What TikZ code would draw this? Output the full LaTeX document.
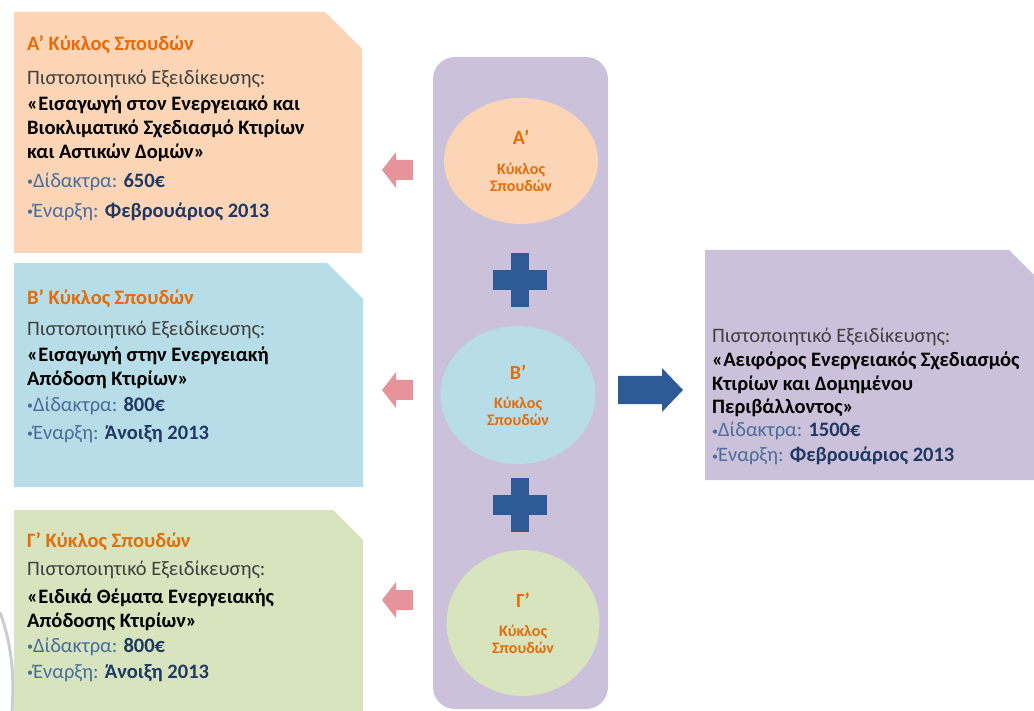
\documentclass[tikz,border=0pt]{standalone}
\usepackage{fontspec}
\setmainfont{Carlito}
\usetikzlibrary{shapes.geometric}

\definecolor{peach}{HTML}{FBD5B5}
\definecolor{skyblue}{HTML}{B7DEE8}
\definecolor{sage}{HTML}{D7E4BD}
\definecolor{lavender}{HTML}{CCC1DA}
\definecolor{cycleorange}{HTML}{E46C0A}
\definecolor{bodygray}{HTML}{404040}
\definecolor{feeblue}{HTML}{4A6E9C}
\definecolor{navy}{HTML}{1F3864}
\definecolor{pinkarrow}{HTML}{E6939B}
\definecolor{darkblue}{HTML}{2E5B97}

\newcommand\smallbullet{{\fontsize{12}{12}\selectfont\raisebox{1.5pt}{•}}}
\newcommand\boxtitle[1]{{\color{cycleorange}\bfseries #1}}
\newcommand\feeline[1]{{\color{feeblue}\smallbullet Δίδακτρα: }{\color{navy}\bfseries #1}}
\newcommand\dateline[1]{{\color{feeblue}\smallbullet Έναρξη: }{\color{navy}\bfseries #1}}
\newcommand\bigletter{\bfseries\fontsize{20}{22}\selectfont}
% box with the top right corner cut off
\newcommand\cutbox[6]{\fill[#1] (#2,#3) -- (#4-#6,#3) -- (#4,#3+#6) -- (#4,#5) -- (#2,#5) -- cycle;}

\tikzset{
	infotext/.style={anchor=north west, inner sep=0pt, align=left, text=bodygray,
		font=\fontsize{20.5}{24}\selectfont},
	cycletext/.style={ellipse, inner sep=0pt, align=center, text=cycleorange,
		font=\bfseries\fontsize{16}{17}\selectfont}
}

\begin{document}
\begin{tikzpicture}[x=1pt,y=-1pt]
	\useasboundingbox (0,0) rectangle (1034,711);
	% faint swoosh of the background
	\draw [black!20, line width=3pt] (0,612) .. controls (10,640) and (15,670) .. (12,711);

	\cutbox{peach}{14}{12}{362}{253}{37}
	\cutbox{skyblue}{14}{263}{363}{487}{36}
	\cutbox{sage}{14}{510}{363}{711}{30}
	\cutbox{lavender}{705}{250}{1034}{480}{25}

	\node [infotext] (infoA) at (27,35) {\boxtitle{Α’ Κύκλος Σπουδών}\\[10pt]
		Πιστοποιητικό Εξειδίκευσης:\\[2pt]
		{\color{black}\bfseries «Εισαγωγή στον Ενεργειακό και}\\
		{\color{black}\bfseries Βιοκλιματικό Σχεδιασμό Κτιρίων}\\
		{\color{black}\bfseries και Αστικών Δομών»}\\[5pt]
		\feeline{650€}\\[6pt]
		\dateline{Φεβρουάριος 2013}};
	\node [infotext] (infoB) at (27,289) {\boxtitle{Β’ Κύκλος Σπουδών}\\[7pt]
		Πιστοποιητικό Εξειδίκευσης:\\[2pt]
		{\color{black}\bfseries «Εισαγωγή στην Ενεργειακή}\\
		{\color{black}\bfseries Απόδοση Κτιρίων»}\\[2pt]
		\feeline{800€}\\[4pt]
		\dateline{Άνοιξη 2013}};
	\node [infotext] (infoC) at (27,532) {\boxtitle{Γ’ Κύκλος Σπουδών}\\[4pt]
		Πιστοποιητικό Εξειδίκευσης:\\[4pt]
		{\color{black}\bfseries «Ειδικά Θέματα Ενεργειακής}\\
		{\color{black}\bfseries Απόδοσης Κτιρίων»}\\[1pt]
		\feeline{800€}\\[2pt]
		\dateline{Άνοιξη 2013}};
	\node [infotext] (infoAll) at (712,328) {Πιστοποιητικό Εξειδίκευσης:\\
		{\color{black}\bfseries «Αειφόρος Ενεργειακός Σχεδιασμός}\\
		{\color{black}\bfseries Κτιρίων και Δομημένου}\\[-1pt]
		{\color{black}\bfseries Περιβάλλοντος»}\\[-1pt]
		\feeline{1500€}\\[1pt]
		\dateline{Φεβρουάριος 2013}};

	% the three cycles
	\fill [lavender, rounded corners=22pt] (433,57) rectangle (608,709);
	\node [cycletext, fill=peach, minimum width=154pt, minimum height=126pt] (cycA) at (521,161)
		{{\bigletter Α’}\\[13pt] Κύκλος\\Σπουδών};
	\node [cycletext, fill=skyblue, minimum width=155pt, minimum height=138pt] (cycB) at (518,395)
		{{\bigletter Β’}\\[12pt] Κύκλος\\Σπουδών};
	\node [cycletext, fill=sage, minimum width=153pt, minimum height=146pt] (cycC) at (523,623)
		{{\bigletter Γ’}\\[12pt] Κύκλος\\Σπουδών};
	\foreach \y in {280, 505} {
		\fill [darkblue] (511,\y-27) rectangle (529,\y+27);
		\fill [darkblue] (493,\y-10) rectangle (547,\y+10);
	}

	% arrows
	\foreach \y in {170, 390, 600} {
		\fill [pinkarrow] (382,\y) -- (396,\y-18) -- (396,\y-10) -- (413,\y-10) -- (413,\y+10) -- (396,\y+10) -- (396,\y+18) -- cycle;
	}
	\fill [darkblue] (683,390) -- (662,368) -- (662,376) -- (618,376) -- (618,404) -- (662,404) -- (662,412) -- cycle;
\end{tikzpicture}
\end{document}
